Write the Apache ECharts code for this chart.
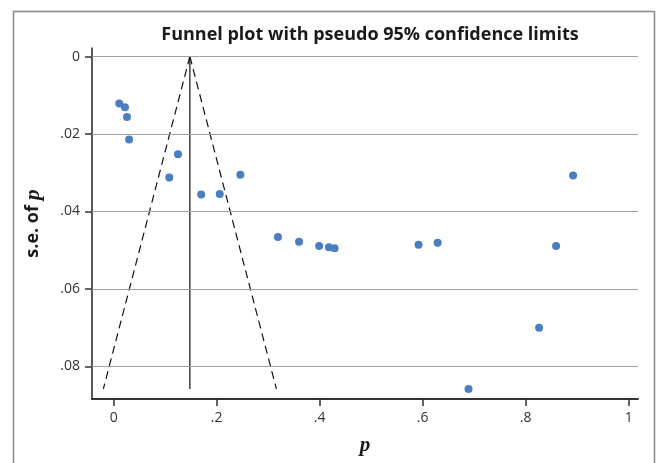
<!DOCTYPE html>
<html>
<head>
    <meta charset="utf-8">
    <script src="https://cdnjs.cloudflare.com/ajax/libs/echarts/6.0.0/echarts.min.js"></script>
</head>
<body>
    <div id="main"></div>
    <style>
html,body { margin: 0; padding: 0; background: #fff; }
#main { width: 656px; height: 463px; }
    </style>
    <script type="text/javascript">
// study estimates
var pVals  = [0.011, 0.022, 0.026, 0.030, 0.125, 0.108, 0.170, 0.206, 0.246, 0.319,
              0.360, 0.399, 0.418, 0.429, 0.592, 0.629, 0.859, 0.826, 0.689, 0.892];
var seVals = [0.0121, 0.0131, 0.0156, 0.0214, 0.0252, 0.0312, 0.0356, 0.0355, 0.0305, 0.0466,
              0.0478, 0.0489, 0.0492, 0.0495, 0.0486, 0.0481, 0.0489, 0.0700, 0.0858, 0.0307];

// funnel: pooled estimate and pseudo 95% limits at the bottom
var pooled = 0.148;
var funnelSe = [0, 0.0858];
var lowerEnd = -0.020;
var upperEnd = 0.316;

var xTicks = [0, 0.2, 0.4, 0.6, 0.8, 1];
var xTickLabels = ['0', '.2', '.4', '.6', '.8', '1'];
var yTicks = [0, 0.02, 0.04, 0.06, 0.08];
var yTickLabels = ['0', '.02', '.04', '.06', '.08'];

var xMin = -0.042, xMax = 1.018;
var yMin = -0.0022, yMax = 0.0884;

function lookup(ticks, labels) {
    return function (v) {
        for (var i = 0; i < ticks.length; i++) {
            if (Math.abs(ticks[i] - v) < 1e-9) return labels[i];
        }
        return '';
    };
}

var points = pVals.map(function (p, i) { return [p, seVals[i]]; });

var option = {
    animation: false,
    title: {
        text: 'Funnel plot with pseudo 95% confidence limits',
        left: 365,
        textAlign: 'center',
        top: 21,
        textStyle: { fontFamily: 'Open Sans', fontWeight: 'bold', fontSize: 18, color: '#1a1a1a' }
    },
    graphic: [{
        type: 'rect',
        left: 11, top: 9,
        shape: { width: 641, height: 470 },
        style: { fill: 'none', stroke: '#888', lineWidth: 1.5 }
    }],
    grid: { left: 92, right: 18, top: 48, bottom: 64 },
    xAxis: {
        type: 'value',
        min: xMin, max: xMax,
        name: 'p',
        nameLocation: 'middle',
        nameGap: 36,
        nameTextStyle: { fontFamily: 'Liberation Serif', fontStyle: 'italic', fontWeight: 'bold', fontSize: 21, color: '#1a1a1a' },
        axisLine: { show: true, onZero: false, lineStyle: { color: '#333', width: 2 } },
        axisTick: { show: true, customValues: xTicks, length: 7, lineStyle: { color: '#333', width: 1.5 } },
        axisLabel: { customValues: xTicks, formatter: lookup(xTicks, xTickLabels), margin: 12,
            fontFamily: 'Open Sans', fontSize: 14, color: '#333' },
        splitLine: { show: false }
    },
    yAxis: {
        type: 'value',
        inverse: true,
        min: yMin, max: yMax,
        name: '{a|s.e. of }{b|p}',
        nameLocation: 'middle',
        nameGap: 48,
        nameTextStyle: {
            rich: {
                a: { fontFamily: 'Open Sans', fontWeight: 'bold', fontSize: 18, color: '#1a1a1a' },
                b: { fontFamily: 'Liberation Serif', fontStyle: 'italic', fontWeight: 'bold', fontSize: 22, color: '#1a1a1a' }
            }
        },
        axisLine: { show: true, onZero: false, lineStyle: { color: '#222', width: 1.5 } },
        axisTick: { show: true, customValues: yTicks, length: 7, lineStyle: { color: '#333', width: 1.5 } },
        axisLabel: { customValues: yTicks, formatter: lookup(yTicks, yTickLabels), margin: 12,
            fontFamily: 'Open Sans', fontSize: 14, color: '#333' },
        splitLine: { show: false }
    },
    series: [
        {
            type: 'scatter',
            data: points,
            symbolSize: 8,
            itemStyle: { color: '#4a7ec0', opacity: 1 },
            markLine: {
                silent: true,
                symbol: 'none',
                label: { show: false },
                lineStyle: { color: '#a0a0a0', type: 'solid', width: 1 },
                data: yTicks.map(function (v) { return { yAxis: v }; })
            },
            z: 5
        },
        {
            type: 'line',
            data: [[pooled, funnelSe[0]], [pooled, funnelSe[1]]],
            symbol: 'none',
            lineStyle: { color: '#111', width: 1.2 }
        },
        {
            type: 'line',
            data: [[pooled, funnelSe[0]], [lowerEnd, funnelSe[1]]],
            symbol: 'none',
            lineStyle: { color: '#111', width: 1.2, type: [8, 5] }
        },
        {
            type: 'line',
            data: [[pooled, funnelSe[0]], [upperEnd, funnelSe[1]]],
            symbol: 'none',
            lineStyle: { color: '#111', width: 1.2, type: [8, 5] }
        }
    ]
};

var chart = echarts.init(document.getElementById('main'));
chart.setOption(option);
    </script>
</body>
</html>
